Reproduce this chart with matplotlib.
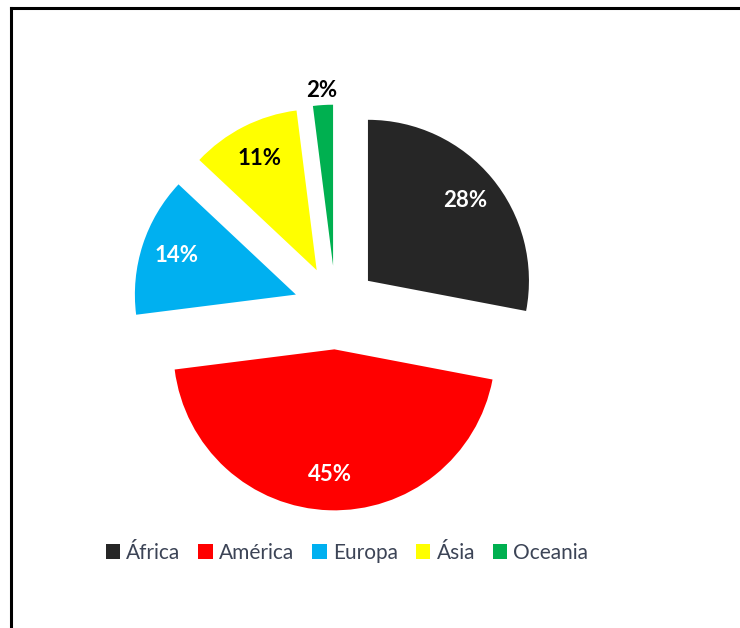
import matplotlib
matplotlib.use("Agg")
import matplotlib.pyplot as plt
from matplotlib.patches import Patch
from matplotlib.lines import Line2D
import numpy as np

categories = ["África", "América", "Europa", "Ásia", "Oceania"]
values = [28, 45, 14, 11, 2]
colors = ["#262626", "#FF0000", "#00B0F0", "#FFFF00", "#00B050"]
label_colors = ["white", "white", "white", "black", "black"]

W, H = 740, 628
fig = plt.figure(figsize=(W / 100, H / 100), dpi=100)
ax = fig.add_axes([0, 0, 1, 1])

# pie geometry in pixels
cx, cy, r = 335.7, 307.5, 161.0

font = ["Lato", "DejaVu Sans"]
wedges, texts, autotexts = ax.pie(
    values, colors=colors, startangle=90, counterclock=False,
    explode=[0.26] * len(values), radius=1.0, center=(0, 0),
    autopct=lambda p: f"{p:.0f}%", pctdistance=0.78,
    wedgeprops=dict(linewidth=0), frame=False,
    textprops=dict(fontsize=16, fontweight="bold", family=font),
)
ax.set_xlim(-cx / r, (W - cx) / r)
ax.set_ylim(-(H - cy) / r, cy / r)
ax.set_aspect("auto")
ax.axis("off")

for t, c in zip(autotexts, label_colors):
    t.set_color(c)

# move the small Oceania label outside
w = wedges[-1]
ang = np.deg2rad((w.theta1 + w.theta2) / 2)
ox, oy = w.center
autotexts[-1].set_position((ox + 1.09 * np.cos(ang), oy + 1.09 * np.sin(ang)))

handles = [Patch(facecolor=c, edgecolor="none") for c in colors]
leg = fig.legend(handles, categories, loc="center", bbox_to_anchor=(347 / W, 1 - 553 / H),
                 ncol=5, frameon=False, handlelength=0.7, handleheight=0.7,
                 handletextpad=0.3, columnspacing=0.85,
                 prop=dict(family=font, size=15))
for t in leg.get_texts():
    t.set_color("#3c4456")

# frame lines (left and top)
fig.add_artist(Line2D([11 / W, 11 / W], [0, 1 - 8 / H], transform=fig.transFigure, color="black", lw=2.2))
fig.add_artist(Line2D([11 / W, 1], [1 - 8 / H, 1 - 8 / H], transform=fig.transFigure, color="black", lw=2.2))

fig.savefig("out.png", dpi=100)
